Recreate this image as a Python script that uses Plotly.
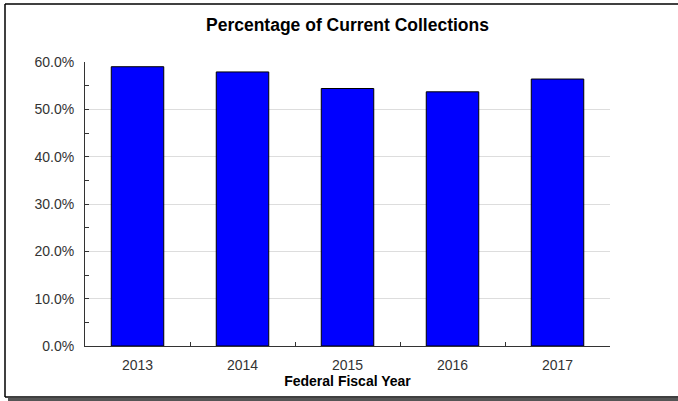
import plotly.graph_objects as go

years = ["2013", "2014", "2015", "2016", "2017"]
pct_current = [59.0, 57.9, 54.4, 53.7, 56.4]
y_ticks = [0, 10, 20, 30, 40, 50, 60]
y_tick_labels = ["0.0%", "10.0%", "20.0%", "30.0%", "40.0%", "50.0%", "60.0%"]

W, H = 678, 401
ML, MR, MT, MB = 85, 68, 62, 55
pw = W - ML - MR
ph = H - MT - MB

def px_x(p):
    return (p - ML) / pw

def px_y(p):
    return (H - MB - p) / ph

fig = go.Figure()
fig.add_trace(go.Bar(
    x=years, y=pct_current, width=0.5,
    marker=dict(color="#0000FF", line=dict(color="#000000", width=1)),
    hoverinfo="x+y",
))

font = "Liberation Sans, Arial, sans-serif"
frame = dict(color="#000000", width=1.5)
fig.update_layout(
    width=W, height=H,
    margin=dict(l=ML, r=MR, t=MT, b=MB),
    paper_bgcolor="white", plot_bgcolor="white",
    showlegend=False,
    font=dict(family=font, size=14, color="#333333"),
    title=dict(text="<b>Percentage of Current Collections</b>",
               x=0.5, xref="paper", xanchor="center",
               y=1 - 25 / H, yanchor="middle",
               font=dict(family=font, size=17.5, color="#000000")),
    xaxis=dict(
        type="category", tickson="boundaries", ticks="inside", ticklen=4,
        tickcolor="#333333", showline=True, linecolor="#333333", linewidth=1,
        showgrid=False, tickfont=dict(size=14, color="#333333"),
        ticklabelstandoff=6,
        title=dict(text="<b>Federal Fiscal Year</b>", standoff=4,
                   font=dict(size=14, color="#000000")),
    ),
    yaxis=dict(
        range=[0, 60], tickvals=y_ticks, ticktext=y_tick_labels,
        ticks="inside", ticklen=4, tickcolor="#333333",
        showline=True, linecolor="#333333", linewidth=1,
        showgrid=True, gridcolor="#DDDDDD", gridwidth=1,
        zeroline=False, tickfont=dict(size=14, color="#333333"),
        ticklabelstandoff=7,
        minor=dict(dtick=5, ticks="inside", ticklen=4, tickcolor="#333333", showgrid=False),
    ),
    shapes=[
        dict(type="rect", xref="paper", yref="paper", layer="below",
             x0=px_x(8), x1=px_x(W), y0=px_y(H), y1=px_y(398),
             line=dict(width=0), fillcolor="#555555"),
        dict(type="line", xref="paper", yref="paper", layer="below",
             x0=px_x(5), x1=px_x(W), y0=px_y(4), y1=px_y(4), line=frame),
        dict(type="line", xref="paper", yref="paper", layer="below",
             x0=px_x(5), x1=px_x(5), y0=px_y(4), y1=px_y(397), line=frame),
        dict(type="line", xref="paper", yref="paper", layer="below",
             x0=px_x(5), x1=px_x(W), y0=px_y(397), y1=px_y(397), line=frame),
    ],
)

fig.write_html("out.html", config={"displayModeBar": False},
               post_script="document.body.style.margin='0';"
                           "document.body.style.overflow='hidden';"
                           "document.documentElement.style.overflow='hidden';")
